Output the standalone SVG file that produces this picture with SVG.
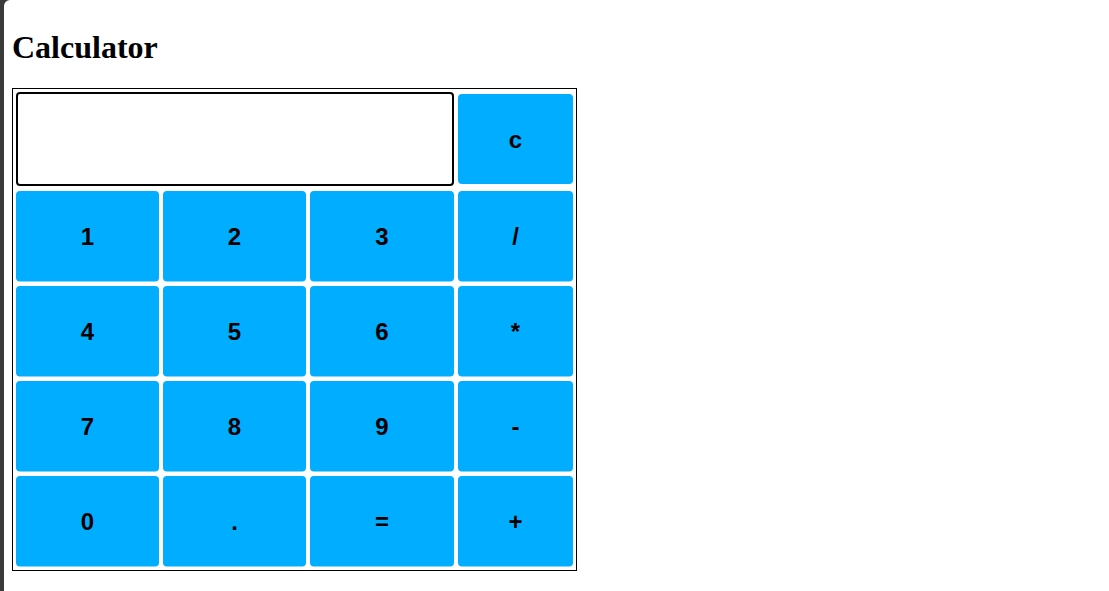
<svg xmlns="http://www.w3.org/2000/svg" width="1109" height="591" viewBox="0 0 1109 591">
<style>
.btn{fill:#00adff}
.lbl{font-family:"Liberation Sans",Arial,sans-serif;font-weight:bold;font-size:24px;fill:#000;text-anchor:middle}
.title{font-family:"Liberation Serif","Times New Roman",serif;font-weight:bold;font-size:32px;fill:#000}
</style>
<rect x="0" y="0" width="1109" height="591" fill="#fff"/>
<path d="M0,0 H10 A6,6 0 0 0 4,6 V591 H0 Z" fill="#3a3a3a"/>
<text class="title" x="12" y="58">Calculator</text>
<rect x="12.5" y="88.5" width="564" height="482" fill="none" stroke="#000" stroke-width="1"/>
<g id="display"><rect x="17" y="93" width="436" height="92" rx="3" fill="#fff" stroke="#000" stroke-width="2"/></g>
<g id="btn-c"><rect class="btn" x="458" y="94" width="115" height="90" rx="4"/><text class="lbl" x="515.5" y="148">c</text></g>
<g id="btn-1"><rect class="btn" x="16" y="191" width="143" height="90.5" rx="4"/><text class="lbl" x="87.5" y="245">1</text></g>
<g id="btn-2"><rect class="btn" x="163" y="191" width="143" height="90.5" rx="4"/><text class="lbl" x="234.5" y="245">2</text></g>
<g id="btn-3"><rect class="btn" x="310" y="191" width="144" height="90.5" rx="4"/><text class="lbl" x="382" y="245">3</text></g>
<g id="btn-div"><rect class="btn" x="458" y="191" width="115" height="90.5" rx="4"/><text class="lbl" x="515.5" y="245">/</text></g>
<g id="btn-4"><rect class="btn" x="16" y="286" width="143" height="90.5" rx="4"/><text class="lbl" x="87.5" y="340">4</text></g>
<g id="btn-5"><rect class="btn" x="163" y="286" width="143" height="90.5" rx="4"/><text class="lbl" x="234.5" y="340">5</text></g>
<g id="btn-6"><rect class="btn" x="310" y="286" width="144" height="90.5" rx="4"/><text class="lbl" x="382" y="340">6</text></g>
<g id="btn-mul"><rect class="btn" x="458" y="286" width="115" height="90.5" rx="4"/><text class="lbl" x="515.5" y="340">*</text></g>
<g id="btn-7"><rect class="btn" x="16" y="381" width="143" height="90.5" rx="4"/><text class="lbl" x="87.5" y="435">7</text></g>
<g id="btn-8"><rect class="btn" x="163" y="381" width="143" height="90.5" rx="4"/><text class="lbl" x="234.5" y="435">8</text></g>
<g id="btn-9"><rect class="btn" x="310" y="381" width="144" height="90.5" rx="4"/><text class="lbl" x="382" y="435">9</text></g>
<g id="btn-sub"><rect class="btn" x="458" y="381" width="115" height="90.5" rx="4"/><text class="lbl" x="515.5" y="435">-</text></g>
<g id="btn-0"><rect class="btn" x="16" y="476" width="143" height="90.5" rx="4"/><text class="lbl" x="87.5" y="530">0</text></g>
<g id="btn-dot"><rect class="btn" x="163" y="476" width="143" height="90.5" rx="4"/><text class="lbl" x="234.5" y="530">.</text></g>
<g id="btn-eq"><rect class="btn" x="310" y="476" width="144" height="90.5" rx="4"/><text class="lbl" x="382" y="530">=</text></g>
<g id="btn-add"><rect class="btn" x="458" y="476" width="115" height="90.5" rx="4"/><text class="lbl" x="515.5" y="530">+</text></g>
<g id="connectors"></g>
</svg>
